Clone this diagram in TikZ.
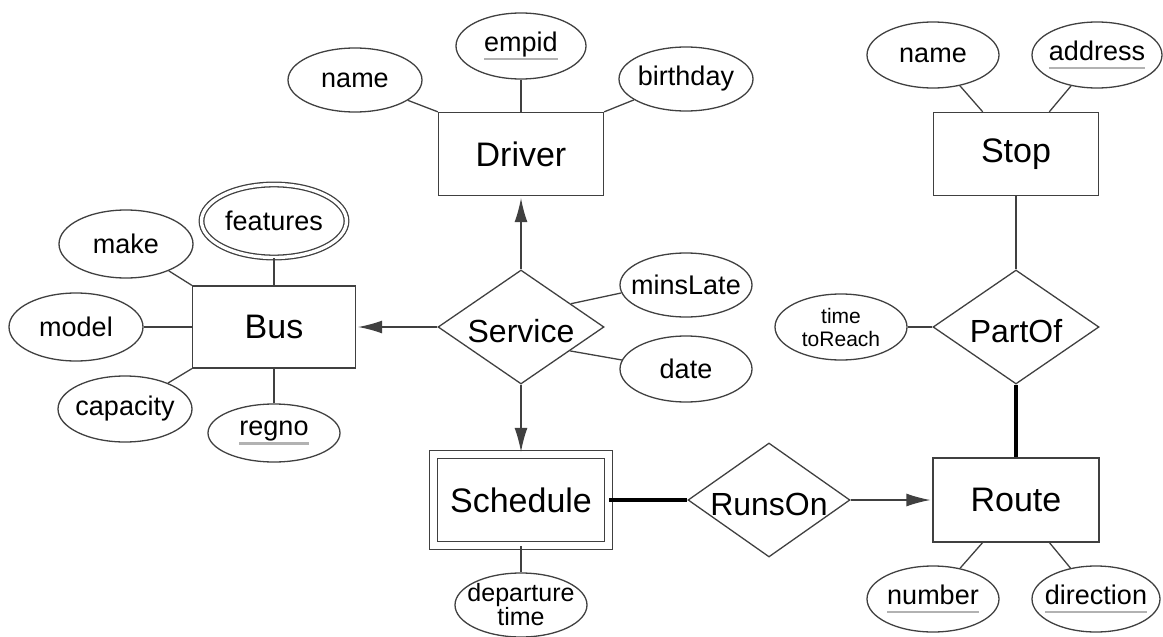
\documentclass[tikz,border=0pt]{standalone}
\usepackage{fontspec}
\setmainfont{Liberation Sans}
\usetikzlibrary{shapes.geometric,arrows.meta,calc}
\newcommand\keyattr[1]{\setbox0\hbox{#1}\rlap{\color{black!30}\rule[-9pt]{\wd0}{2.5pt}}\box0}
\begin{document}
\begin{tikzpicture}[x=1pt,y=-1pt,line width=1.3pt,
  ent/.style={draw=black!75, rectangle, minimum width=165pt, minimum height=83pt, inner sep=0pt, font=\fontsize{34}{36}\selectfont},
  attrtext/.style={font=\fontsize{27}{26}\selectfont, align=center, inner sep=0pt},
  attr/.style={draw=black!75, ellipse, inner sep=0pt, minimum width=133pt, minimum height=65pt, label={[attrtext]center:#1}},
  reltext/.style={font=\fontsize{32}{34}\selectfont, inner sep=0pt, yshift=-4pt},
  rel/.style={draw=black!75, diamond, inner sep=0pt, aspect=1.46, minimum width=166pt, minimum height=114pt, label={[reltext]center:#1}},
  conn/.style={draw=black!75, line width=1.3pt},
  arr/.style={conn, shorten >=2pt, -{Latex[length=24pt,width=13pt]}},
  heavy/.style={draw=black, line width=4pt}
]
\useasboundingbox (0,0) rectangle (1163,637);
% entities
\node[ent] (driver) at (521,154) {Driver};
\node[ent, minimum width=163pt, minimum height=82pt] (bus) at (274,327) {Bus};
\node[ent, minimum width=175pt, minimum height=91pt, double, double distance=6.8pt] (schedule) at (521,500) {Schedule};
\node[ent] (stop) at (1016,154) {Stop};
\node[ent, minimum width=166pt, minimum height=84pt] (route) at (1016,500) {Route};
% relationships
\node[rel={Service}] (service) at (521,327) {};
\node[rel={RunsOn}, minimum width=162pt] (runson) at (769,500) {};
\node[rel={PartOf}] (partof) at (1016,327) {};
% attributes
\node[attr={name}, minimum width=134pt, minimum height=64pt] (dname) at (355,80) {};
\node[attr={\keyattr{empid}}, minimum width=130pt, minimum height=66pt] (empid) at (521,46) {};
\node[attr={birthday}, minimum width=134pt, minimum height=64pt] (birthday) at (686,79) {};
\node[attr={features}, minimum width=145pt, minimum height=73pt, double, double distance=3.3pt] (features) at (274,221) {};
\node[attr={make}, minimum width=134pt, minimum height=68pt] (make) at (126,244) {};
\node[attr={model}, minimum width=134pt, minimum height=68pt] (model) at (76,327) {};
\node[attr={capacity}, minimum width=134pt, minimum height=66pt] (capacity) at (125,409) {};
\node[attr={\keyattr{regno}}, minimum width=132pt, minimum height=58pt] (regno) at (274,433) {};
\node[attr={minsLate}, minimum width=132pt, minimum height=64pt] (minslate) at (686,285) {};
\node[attr={date}, minimum width=132pt, minimum height=66pt] (date) at (686,369) {};
\node[attr={{\fontsize{25}{26}\selectfont departure}\\[-2pt]{\fontsize{25}{26}\selectfont time}}, minimum width=132pt, minimum height=64pt] (departure) at (521,605) {};
\node[attr={{\fontsize{21}{21}\selectfont time}\\[-3pt]{\fontsize{21}{21}\selectfont toReach}}, minimum width=132pt, minimum height=66pt] (ttr) at (841,327) {};
\node[attr={name}, minimum width=132pt, minimum height=66pt] (sname) at (933,55) {};
\node[attr={\keyattr{address}}, minimum width=130pt, minimum height=66pt] (address) at (1097,55) {};
\node[attr={\keyattr{number}}, minimum width=132pt, minimum height=66pt] (number) at (933,599) {};
\node[attr={\keyattr{direction}}, minimum width=128pt, minimum height=66pt] (direction) at (1096,599) {};
% helper coordinates
\coordinate (stopA) at ($(stop.north west)!0.3!(stop.north east)$);
\coordinate (stopB) at ($(stop.north west)!0.7!(stop.north east)$);
\coordinate (routeA) at ($(route.south west)!0.3!(route.south east)$);
\coordinate (routeB) at ($(route.south west)!0.7!(route.south east)$);
% attribute connectors
\draw[conn] (dname) -- (driver.north west);
\draw[conn] (empid) -- (driver);
\draw[conn] (birthday) -- (driver.north east);
\draw[conn] (features) -- (bus);
\draw[conn] (make) -- (bus.north west);
\draw[conn] (model) -- (bus);
\draw[conn] (capacity) -- (bus.south west);
\draw[conn] (regno) -- (bus);
\draw[conn] (service.25) -- (minslate.187);
\draw[conn] (service.-26) -- (date.172);
\draw[conn] (schedule) -- (departure);
\draw[conn] (ttr) -- (partof);
\draw[conn] (sname) -- (stopA);
\draw[conn] (address) -- (stopB);
\draw[conn] (number) -- (routeA);
\draw[conn] (direction) -- (routeB);
% relationship connectors
\draw[arr] (service) -- (bus);
\draw[arr] (service) -- (driver);
\draw[arr] (service) -- (schedule);
\draw[heavy] (schedule) -- (runson);
\draw[arr] (runson) -- (route);
\draw[conn] (partof) -- (stop);
\draw[heavy] (partof) -- (route);
\end{tikzpicture}
\end{document}
